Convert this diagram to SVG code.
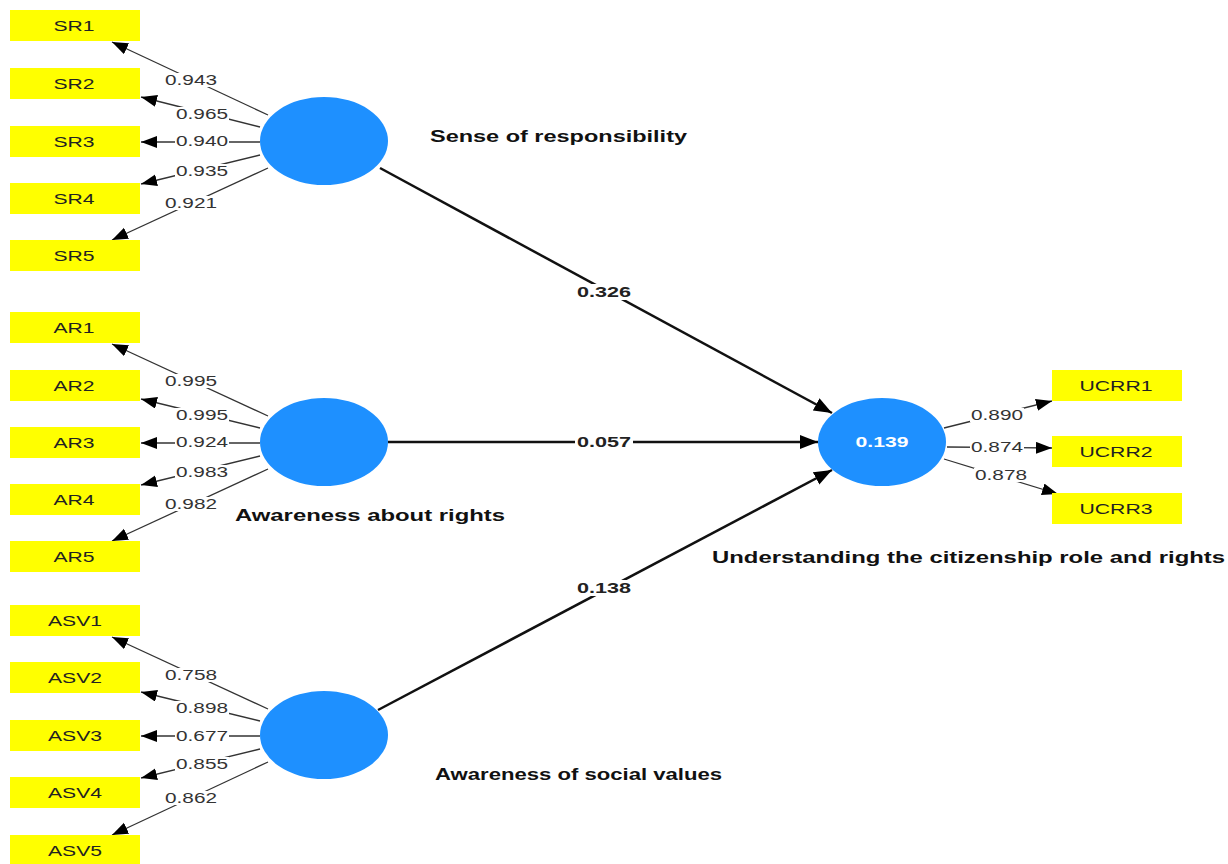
<svg xmlns="http://www.w3.org/2000/svg" width="1228" height="864" viewBox="0 0 1228 864">
<style>
.ind{fill:#ffff00;}
.lv{fill:#1e90ff;}
.it{font-family:"Liberation Sans",Arial,sans-serif;font-size:14px;fill:#222;text-anchor:middle;}
.ld{font-family:"Liberation Sans",Arial,sans-serif;font-size:14px;fill:#333;text-anchor:middle;}
.pc{font-family:"Liberation Sans",Arial,sans-serif;font-size:14px;font-weight:bold;fill:#222;text-anchor:middle;}
.nm{font-family:"Liberation Sans",Arial,sans-serif;font-size:16px;font-weight:bold;fill:#111;}
.r2{font-family:"Liberation Sans",Arial,sans-serif;font-size:14px;font-weight:bold;fill:#fff;text-anchor:middle;}
.ml{stroke:#333;stroke-width:1.3;fill:none;marker-end:url(#ah);}
.sl{stroke:#111;stroke-width:2.5;fill:none;marker-end:url(#ahb);}
.bg{fill:#fff;}
</style>
<defs>
<marker id="ah" markerUnits="userSpaceOnUse" markerWidth="18" markerHeight="14" refX="16" refY="6" orient="auto">
<path d="M0,0 L16,6 L0,12 Z" fill="#000"/>
</marker>
<marker id="ahb" markerUnits="userSpaceOnUse" markerWidth="20" markerHeight="16" refX="18" refY="7" orient="auto">
<path d="M0,0 L18,7 L0,14 Z" fill="#000"/>
</marker>
</defs>
<rect width="1228" height="864" fill="#fff"/>

<g id="connectors">
<!-- SR measurement -->
<line class="ml" x1="268" y1="115" x2="112" y2="42"/>
<line class="ml" x1="260" y1="127" x2="141" y2="97"/>
<line class="ml" x1="260" y1="142" x2="141" y2="142"/>
<line class="ml" x1="260" y1="155" x2="141" y2="184"/>
<line class="ml" x1="268" y1="168" x2="112" y2="240"/>
<!-- AR measurement -->
<line class="ml" x1="268" y1="416" x2="112" y2="344"/>
<line class="ml" x1="260" y1="428" x2="141" y2="399"/>
<line class="ml" x1="260" y1="443" x2="141" y2="443"/>
<line class="ml" x1="260" y1="456" x2="141" y2="485"/>
<line class="ml" x1="268" y1="469" x2="112" y2="541"/>
<!-- ASV measurement -->
<line class="ml" x1="268" y1="709" x2="112" y2="637"/>
<line class="ml" x1="260" y1="721" x2="141" y2="692"/>
<line class="ml" x1="260" y1="736" x2="141" y2="736"/>
<line class="ml" x1="260" y1="749" x2="141" y2="778"/>
<line class="ml" x1="268" y1="762" x2="112" y2="835"/>
<!-- UCRR measurement -->
<line class="ml" x1="944" y1="428" x2="1052" y2="401"/>
<line class="ml" x1="947" y1="447" x2="1052" y2="448"/>
<line class="ml" x1="944" y1="459" x2="1058" y2="494"/>
<!-- structural -->
<line class="sl" x1="380" y1="168" x2="832" y2="413"/>
<line class="sl" x1="388" y1="442" x2="818" y2="442"/>
<line class="sl" x1="378" y1="710" x2="832" y2="470"/>

<!-- loading labels -->
<rect class="bg" x="164" y="73" width="54" height="14"/><text class="ld" x="191" y="85" textLength="52" lengthAdjust="spacingAndGlyphs">0.943</text>
<rect class="bg" x="175" y="107" width="54" height="14"/><text class="ld" x="202" y="119" textLength="52" lengthAdjust="spacingAndGlyphs">0.965</text>
<rect class="bg" x="175" y="134" width="54" height="14"/><text class="ld" x="202" y="146" textLength="52" lengthAdjust="spacingAndGlyphs">0.940</text>
<rect class="bg" x="175" y="164" width="54" height="14"/><text class="ld" x="202" y="176" textLength="52" lengthAdjust="spacingAndGlyphs">0.935</text>
<rect class="bg" x="164" y="196" width="54" height="14"/><text class="ld" x="191" y="208" textLength="52" lengthAdjust="spacingAndGlyphs">0.921</text>

<rect class="bg" x="164" y="374" width="54" height="14"/><text class="ld" x="191" y="386" textLength="52" lengthAdjust="spacingAndGlyphs">0.995</text>
<rect class="bg" x="175" y="408" width="54" height="14"/><text class="ld" x="202" y="420" textLength="52" lengthAdjust="spacingAndGlyphs">0.995</text>
<rect class="bg" x="175" y="435" width="54" height="14"/><text class="ld" x="202" y="447" textLength="52" lengthAdjust="spacingAndGlyphs">0.924</text>
<rect class="bg" x="175" y="465" width="54" height="14"/><text class="ld" x="202" y="477" textLength="52" lengthAdjust="spacingAndGlyphs">0.983</text>
<rect class="bg" x="164" y="497" width="54" height="14"/><text class="ld" x="191" y="509" textLength="52" lengthAdjust="spacingAndGlyphs">0.982</text>

<rect class="bg" x="164" y="668" width="54" height="14"/><text class="ld" x="191" y="680" textLength="52" lengthAdjust="spacingAndGlyphs">0.758</text>
<rect class="bg" x="175" y="701" width="54" height="14"/><text class="ld" x="202" y="713" textLength="52" lengthAdjust="spacingAndGlyphs">0.898</text>
<rect class="bg" x="175" y="729" width="54" height="14"/><text class="ld" x="202" y="741" textLength="52" lengthAdjust="spacingAndGlyphs">0.677</text>
<rect class="bg" x="175" y="757" width="54" height="14"/><text class="ld" x="202" y="769" textLength="52" lengthAdjust="spacingAndGlyphs">0.855</text>
<rect class="bg" x="164" y="791" width="54" height="14"/><text class="ld" x="191" y="803" textLength="52" lengthAdjust="spacingAndGlyphs">0.862</text>

<rect class="bg" x="970" y="408" width="54" height="14"/><text class="ld" x="997" y="420" textLength="52" lengthAdjust="spacingAndGlyphs">0.890</text>
<rect class="bg" x="970" y="440" width="54" height="14"/><text class="ld" x="997" y="452" textLength="52" lengthAdjust="spacingAndGlyphs">0.874</text>
<rect class="bg" x="974" y="468" width="54" height="14"/><text class="ld" x="1001" y="480" textLength="52" lengthAdjust="spacingAndGlyphs">0.878</text>

<rect class="bg" x="575" y="284" width="58" height="16"/><text class="pc" x="604" y="297" textLength="54" lengthAdjust="spacingAndGlyphs">0.326</text>
<rect class="bg" x="575" y="434" width="58" height="16"/><text class="pc" x="604" y="447" textLength="54" lengthAdjust="spacingAndGlyphs">0.057</text>
<rect class="bg" x="575" y="580" width="58" height="16"/><text class="pc" x="604" y="593" textLength="54" lengthAdjust="spacingAndGlyphs">0.138</text>
</g>

<!-- SR indicators -->
<g id="SR1"><rect class="ind" x="10" y="10" width="130" height="31"/><text class="it" x="74" y="31" textLength="41" lengthAdjust="spacingAndGlyphs">SR1</text></g>
<g id="SR2"><rect class="ind" x="10" y="68" width="130" height="31"/><text class="it" x="74" y="89" textLength="41" lengthAdjust="spacingAndGlyphs">SR2</text></g>
<g id="SR3"><rect class="ind" x="10" y="126" width="130" height="31"/><text class="it" x="74" y="147" textLength="41" lengthAdjust="spacingAndGlyphs">SR3</text></g>
<g id="SR4"><rect class="ind" x="10" y="183" width="130" height="31"/><text class="it" x="74" y="204" textLength="41" lengthAdjust="spacingAndGlyphs">SR4</text></g>
<g id="SR5"><rect class="ind" x="10" y="240" width="130" height="31"/><text class="it" x="74" y="261" textLength="41" lengthAdjust="spacingAndGlyphs">SR5</text></g>

<!-- AR indicators -->
<g id="AR1"><rect class="ind" x="10" y="312" width="130" height="31"/><text class="it" x="74" y="333" textLength="41" lengthAdjust="spacingAndGlyphs">AR1</text></g>
<g id="AR2"><rect class="ind" x="10" y="370" width="130" height="31"/><text class="it" x="74" y="391" textLength="41" lengthAdjust="spacingAndGlyphs">AR2</text></g>
<g id="AR3"><rect class="ind" x="10" y="427" width="130" height="31"/><text class="it" x="74" y="448" textLength="41" lengthAdjust="spacingAndGlyphs">AR3</text></g>
<g id="AR4"><rect class="ind" x="10" y="484" width="130" height="31"/><text class="it" x="74" y="505" textLength="41" lengthAdjust="spacingAndGlyphs">AR4</text></g>
<g id="AR5"><rect class="ind" x="10" y="541" width="130" height="31"/><text class="it" x="74" y="562" textLength="41" lengthAdjust="spacingAndGlyphs">AR5</text></g>

<!-- ASV indicators -->
<g id="ASV1"><rect class="ind" x="10" y="605" width="130" height="31"/><text class="it" x="75" y="626" textLength="54" lengthAdjust="spacingAndGlyphs">ASV1</text></g>
<g id="ASV2"><rect class="ind" x="10" y="662" width="130" height="31"/><text class="it" x="75" y="683" textLength="54" lengthAdjust="spacingAndGlyphs">ASV2</text></g>
<g id="ASV3"><rect class="ind" x="10" y="720" width="130" height="31"/><text class="it" x="75" y="741" textLength="54" lengthAdjust="spacingAndGlyphs">ASV3</text></g>
<g id="ASV4"><rect class="ind" x="10" y="777" width="130" height="31"/><text class="it" x="75" y="798" textLength="54" lengthAdjust="spacingAndGlyphs">ASV4</text></g>
<g id="ASV5"><rect class="ind" x="10" y="835" width="130" height="31"/><text class="it" x="75" y="856" textLength="54" lengthAdjust="spacingAndGlyphs">ASV5</text></g>

<!-- UCRR indicators -->
<g id="UCRR1"><rect class="ind" x="1052" y="370" width="130" height="31"/><text class="it" x="1116" y="391" textLength="73" lengthAdjust="spacingAndGlyphs">UCRR1</text></g>
<g id="UCRR2"><rect class="ind" x="1052" y="436" width="130" height="31"/><text class="it" x="1116" y="457" textLength="73" lengthAdjust="spacingAndGlyphs">UCRR2</text></g>
<g id="UCRR3"><rect class="ind" x="1052" y="493" width="130" height="31"/><text class="it" x="1116" y="514" textLength="73" lengthAdjust="spacingAndGlyphs">UCRR3</text></g>

<!-- latent variables -->
<g id="SR"><ellipse class="lv" cx="324" cy="141" rx="64" ry="44"/><text class="nm" x="430" y="142" textLength="257" lengthAdjust="spacingAndGlyphs">Sense of responsibility</text></g>
<g id="AR"><ellipse class="lv" cx="324" cy="442" rx="64" ry="44"/><text class="nm" x="235" y="521" textLength="270" lengthAdjust="spacingAndGlyphs">Awareness about rights</text></g>
<g id="ASV"><ellipse class="lv" cx="324" cy="735" rx="64" ry="44"/><text class="nm" x="435" y="780" textLength="287" lengthAdjust="spacingAndGlyphs">Awareness of social values</text></g>
<g id="UCRR"><ellipse class="lv" cx="882" cy="442" rx="64" ry="44"/><text class="r2" x="882" y="447" textLength="53" lengthAdjust="spacingAndGlyphs">0.139</text><text class="nm" x="712" y="563" textLength="513" lengthAdjust="spacingAndGlyphs">Understanding the citizenship role and rights</text></g>
</svg>
